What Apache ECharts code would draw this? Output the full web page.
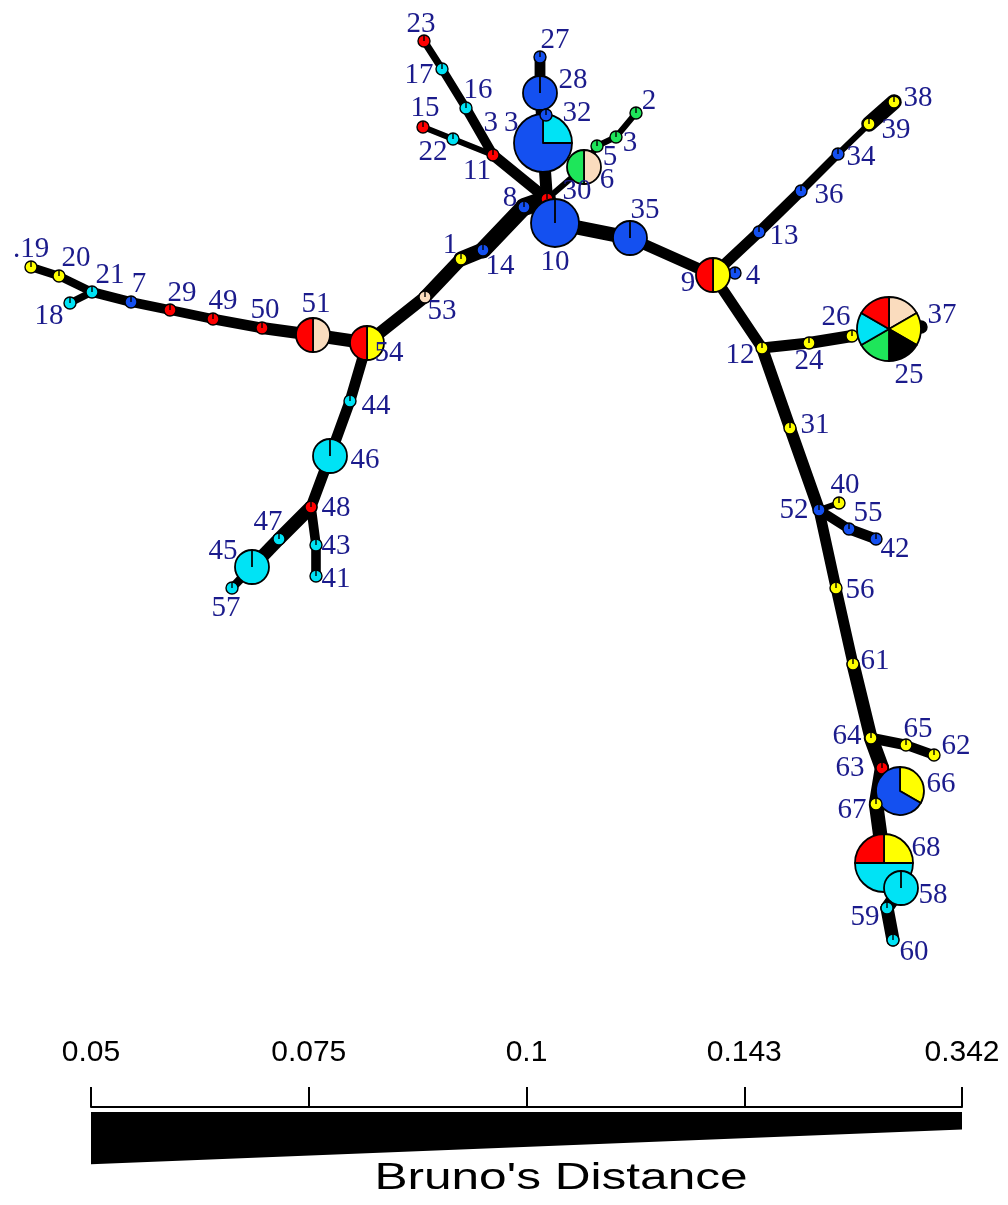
<!DOCTYPE html>
<html><head><meta charset="utf-8">
<script src="https://cdn.jsdelivr.net/npm/echarts@6/dist/echarts.min.js"></script>
<style>html,body{margin:0;padding:0;background:#fff}#c{width:1008px;height:1205px}</style>
</head><body><div id="c"></div>
<script>
// ---- DATA ----
// node ids in drawing order (later ones drawn on top)
const nodeIds = ['23','17','16','15','22','11','27','30','28','33','32','2','3','5','6','8','10','35','14','1','53',
  '19','20','18','21','7','29','49','50','51','54','44','46','48','47','43','41','45','57',
  '4','9','13','36','34','39','38','12','24','26','37','25','31','52','40','55','42','56','61',
  '64','65','62','63','66','67','68','58','59','60'];
// layout coordinates of each node (network layout space)
const nodeX = {1:461,2:636,3:616,4:735,5:597,6:584,7:131,8:524,9:713,10:555,11:493,12:762,13:759,14:483,15:423,16:466,17:442,18:70,19:31,20:59,
  21:92,22:453,23:424,24:809,25:889,26:852,27:540,28:540,29:170,30:547,31:790,32:546,33:543,34:838,35:630,36:801,37:921,38:894,39:869,40:839,
  41:316,42:876,43:316,44:350,45:252,46:330,47:279,48:311,49:213,50:262,51:313,52:819,53:425,54:367,55:849,56:836,57:232,58:901,59:887,60:893,
  61:853,62:934,63:882,64:871,65:906,66:900,67:876,68:884};
const nodeY = {1:259,2:113,3:137,4:273,5:146,6:167,7:302,8:207,9:275,10:223,11:155,12:348,13:232,14:250,15:127,16:108,17:69,18:303,19:267,20:276,
  21:292,22:139,23:41,24:343,25:329,26:336,27:57,28:93,29:310,30:199,31:428,32:115,33:143,34:154,35:238,36:191,37:327,38:102,39:124,40:503,
  41:576,42:539,43:545,44:401,45:567,46:456,47:539,48:507,49:319,50:328,51:335,52:510,53:297,54:343,55:529,56:588,57:588,58:888,59:908,60:940,
  61:664,62:755,63:768,64:738,65:745,66:791,67:804,68:863};
// population composition of each multilocus genotype (one letter per individual)
const nodeComp = {1:'Y',2:'G',3:'G',4:'B',5:'G',6:'TG',7:'B',8:'B',9:'YR',10:'BBB',11:'R',12:'Y',13:'B',14:'B',15:'R',16:'C',17:'C',18:'C',19:'Y',20:'Y',
  21:'C',22:'C',23:'R',24:'Y',25:'TYKGCR',26:'Y',27:'B',28:'BB',29:'R',30:'R',31:'Y',32:'B',33:'CBBB',34:'B',35:'BB',36:'B',37:'K',38:'Y',39:'Y',40:'Y',
  41:'C',42:'B',43:'C',44:'C',45:'CC',46:'CC',47:'C',48:'R',49:'R',50:'R',51:'TR',52:'B',53:'T',54:'YR',55:'B',56:'Y',57:'C',58:'CC',59:'C',60:'C',
  61:'Y',62:'Y',63:'R',64:'Y',65:'Y',66:'YBB',67:'Y',68:'YCCR'};
const nodeText = {19:'.19', 33:'3\u20093'};
// edges: [from, to, Bruno's distance]
const edges = [
  ['23','17',0.262],['17','16',0.183],['16','11',0.134],['11','30',0.117],
  ['15','22',0.342],['22','11',0.342],
  ['27','28',0.117],['28','33',0.117],['32','33',0.342],['33','30',0.1],
  ['2','3',0.342],['3','5',0.342],['5','6',0.342],['6','30',0.342],
  ['30','10',0.09],['10','35',0.08],['35','9',0.117],
  ['9','4',0.342],['9','13',0.117],['13','36',0.117],['36','34',0.183],['34','39',0.342],['39','38',0.07],
  ['9','12',0.117],['12','24',0.117],['24','26',0.1],['26','25',0.342],['25','37',0.342],
  ['12','31',0.1],['31','52',0.1],['52','40',0.342],['52','55',0.134],['55','42',0.117],
  ['52','56',0.117],['56','61',0.117],['61','64',0.09],
  ['64','65',0.117],['65','62',0.134],['64','63',0.08],['63','66',0.342],['63','67',0.08],['67','68',0.08],['68','58',0.09],['58','59',0.09],['59','60',0.09],
  ['30','8',0.05],['8','14',0.06],['14','1',0.075],['1','53',0.09],['53','54',0.1],
  ['54','51',0.09],['51','50',0.1],['50','49',0.117],['49','29',0.134],['29','7',0.134],['7','21',0.134],['21','20',0.183],['20','19',0.183],['21','18',0.262],
  ['54','44',0.117],['44','46',0.117],['46','48',0.117],['48','47',0.09],['47','45',0.09],['45','57',0.183],['48','43',0.134],['43','41',0.134]
];
// scale-bar tick labels
const scaleTicks = [0.05, 0.075, 0.1, 0.143, 0.342];
const scaleTitle = "Bruno's Distance";

// ---- STYLE / LAYOUT ----
const popColors = {R:'#FF0000',Y:'#FFFF00',C:'#00E3F5',B:'#1450F0',G:'#1EE65A',T:'#FADCBE',K:'#000000'};
const radiusByCount = [0,6,17,24,29,31,32];
const labelOffset = {1:[-11,-14],2:[13,-12],3:[14,6],4:[18,3],5:[13,11],6:[23,13],7:[8,-18],8:[-14,-9],9:[-25,8],10:[0,39],
  11:[-16,16],12:[-22,7],13:[25,4],14:[17,16],15:[2,-19],16:[12,-18],17:[-23,6],18:[-21,13],19:[0,-18],20:[17,-18],
  21:[18,-17],22:[-20,13],23:[-3,-17],24:[0,18],25:[20,46],26:[-16,-19],27:[15,-17],28:[33,-13],29:[12,-17],30:[30,-8],
  31:[25,-3],32:[31,-2],33:[-42,-20],34:[23,3],35:[15,-28],36:[28,4],37:[21,-12],38:[24,-4],39:[27,6],40:[6,-18],
  41:[20,3],42:[19,10],43:[20,1],44:[26,5],45:[-29,-16],46:[35,4],47:[-11,-17],48:[25,1],49:[10,-18],50:[3,-18],
  51:[3,-31],52:[-25,0],53:[17,14],54:[22,10],55:[19,-16],56:[24,2],57:[-6,20],58:[32,7],59:[-22,9],60:[21,12],
  61:[22,-3],62:[22,-9],63:[-32,0],64:[-24,-2],65:[12,-16],66:[41,-7],67:[-24,6],68:[42,-15]};

function widthFor(d){
  const t = scaleTicks;
  let pos = t.length - 1;
  if (d <= t[0]) pos = 0;
  else for (let i = 0; i < t.length - 1; i++) {
    if (d >= t[i] && d <= t[i+1]) { pos = i + (d - t[i]) / (t[i+1] - t[i]); break; }
  }
  return 18 - 3 * pos;
}

const edgeData = edges.map(e => [nodeX[e[0]], nodeY[e[0]], nodeX[e[1]], nodeY[e[1]], e[2]]);
const nodeData = nodeIds.map(id => [nodeX[id], nodeY[id], id]);

function renderEdge(params, api){
  const p1 = api.coord([api.value(0), api.value(1)]);
  const p2 = api.coord([api.value(2), api.value(3)]);
  return {type:'line', shape:{x1:p1[0],y1:p1[1],x2:p2[0],y2:p2[1]},
    style:{stroke:'#000', lineWidth: widthFor(api.value(4)), lineCap:'round'}};
}

function renderNode(params, api){
  const id = nodeIds[params.dataIndex];
  const c = api.coord([api.value(0), api.value(1)]);
  const comp = nodeComp[id];
  const n = comp.length;
  const r = radiusByCount[n] || 32;
  const children = [];
  const runs = [];
  for (let i = 0; i < n; i++) {
    if (runs.length && runs[runs.length-1].k === comp[i]) runs[runs.length-1].len++;
    else runs.push({k: comp[i], len: 1});
  }
  const sw = r > 10 ? 1.8 : 1.4;
  if (runs.length === 1) {
    children.push({type:'circle', shape:{cx:c[0], cy:c[1], r:r}, style:{fill:popColors[runs[0].k], stroke:'#000', lineWidth:sw}});
    children.push({type:'line', shape:{x1:c[0], y1:c[1], x2:c[0], y2:c[1]-r}, style:{stroke:'#000', lineWidth:sw}});
  } else {
    let a = -Math.PI/2;
    runs.forEach(run => {
      const b = a + run.len / n * Math.PI * 2;
      children.push({type:'sector', shape:{cx:c[0], cy:c[1], r0:0, r:r, startAngle:a, endAngle:b, clockwise:true},
        style:{fill:popColors[run.k], stroke:'#000', lineWidth:sw, lineJoin:'round'}});
      a = b;
    });
  }
  return {type:'group', children: children};
}

function renderLabel(params, api){
  const id = nodeIds[params.dataIndex];
  const c = api.coord([api.value(0), api.value(1)]);
  const off = labelOffset[id] || [15, 0];
  return {type:'text', x: c[0] + off[0], y: c[1] + off[1],
    style:{text: nodeText[id] || id, fill:'#1B1B8C', fontSize:29, fontFamily:'"Liberation Serif", "DejaVu Serif", serif',
      align:'center', verticalAlign:'middle'}};
}

function renderWedge(params, api){
  const a = api.coord([0, 0]);
  const b = api.coord([scaleTicks.length - 1, 0]);
  const top = params.coordSys.y + 5;
  const k = 2.9;
  const wl = widthFor(scaleTicks[0]) * k;
  const wr = widthFor(scaleTicks[scaleTicks.length-1]) * k;
  return {type:'polygon', shape:{points:[[a[0],top],[b[0],top],[b[0],top+wr],[a[0],top+wl]]}, style:{fill:'#000'}};
}

const chart = echarts.init(document.getElementById('c'), null, {renderer:'canvas'});
chart.setOption({
  animation:false,
  backgroundColor:'#fff',
  grid:[{left:0,right:0,top:0,bottom:0},{left:91,width:871,top:1107,height:57}],
  xAxis:[
    {type:'value', min:0, max:1008, show:false},
    {type:'category', gridIndex:1, data: scaleTicks.map(String), boundaryGap:false, position:'top',
      axisLine:{show:true, onZero:false, lineStyle:{color:'#000', width:2}},
      axisTick:{show:true, length:20, interval:0, lineStyle:{color:'#000', width:2}},
      axisLabel:{show:true, interval:0, margin:39, fontSize:30, color:'#000', fontFamily:'"Liberation Sans", Arial, sans-serif'},
      splitLine:{show:false}}
  ],
  yAxis:[
    {type:'value', min:0, max:1205, inverse:true, show:false},
    {type:'value', gridIndex:1, min:0, max:1, show:false}
  ],
  graphic:[{type:'text', x:561, y:1179, scaleX:1.34,
    style:{text: scaleTitle, fontSize:37, fontFamily:'"Liberation Sans", Arial, sans-serif', fill:'#000', align:'center', verticalAlign:'middle'}}],
  series:[
    {type:'custom', name:'edges', xAxisIndex:0, yAxisIndex:0, clip:false, silent:true, renderItem: renderEdge, data: edgeData, z:1},
    {type:'custom', name:'nodes', xAxisIndex:0, yAxisIndex:0, clip:false, silent:true, renderItem: renderNode, data: nodeData, z:2},
    {type:'custom', name:'labels', xAxisIndex:0, yAxisIndex:0, clip:false, silent:true, renderItem: renderLabel, data: nodeData, z:3},
    {type:'custom', name:'scale', xAxisIndex:1, yAxisIndex:1, clip:false, silent:true, renderItem: renderWedge, data:[[0,0]], z:1}
  ]
});
</script></body></html>
